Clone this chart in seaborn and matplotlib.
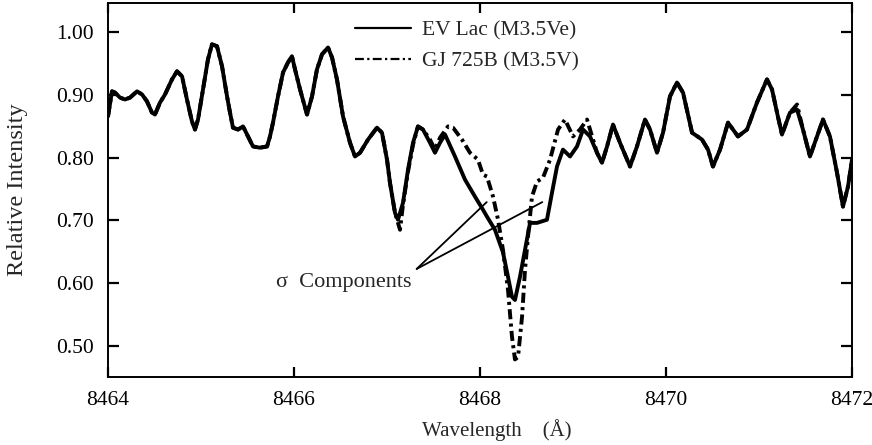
import matplotlib
matplotlib.use("Agg")
import matplotlib.pyplot as plt
from matplotlib.lines import Line2D
import seaborn as sns
import pandas as pd

# ---- data ----
ev_wl = [8464.000, 8464.043, 8464.075, 8464.129, 8464.183, 8464.237, 8464.312, 8464.366, 8464.419, 8464.473,
         8464.505, 8464.559, 8464.613, 8464.688, 8464.742, 8464.796, 8464.849, 8464.903, 8464.935, 8464.968,
         8465.022, 8465.075, 8465.118, 8465.172, 8465.226, 8465.280, 8465.312, 8465.344, 8465.398, 8465.452,
         8465.505, 8465.559, 8465.634, 8465.710, 8465.742, 8465.774, 8465.828, 8465.882, 8465.935, 8465.978,
         8466.011, 8466.065, 8466.140, 8466.194, 8466.247, 8466.301, 8466.366, 8466.409, 8466.462, 8466.527,
         8466.602, 8466.656, 8466.710, 8466.796, 8466.892, 8466.946, 8467.000, 8467.032, 8467.086, 8467.118,
         8467.172, 8467.226, 8467.280, 8467.333, 8467.387, 8467.462, 8467.516, 8467.570, 8467.624, 8467.731,
         8467.839, 8467.946, 8468.032, 8468.075, 8468.161, 8468.247, 8468.301, 8468.344, 8468.376, 8468.430,
         8468.484, 8468.538, 8468.613, 8468.720, 8468.774, 8468.828, 8468.892, 8468.968, 8469.043, 8469.108,
         8469.183, 8469.258, 8469.312, 8469.366, 8469.430, 8469.505, 8469.613, 8469.688, 8469.774, 8469.828,
         8469.903, 8469.968, 8470.043, 8470.118, 8470.183, 8470.280, 8470.387, 8470.452, 8470.505, 8470.581,
         8470.667, 8470.774, 8470.871, 8470.978, 8471.086, 8471.140, 8471.194, 8471.247, 8471.333, 8471.409,
         8471.473, 8471.548, 8471.624, 8471.688, 8471.763, 8471.839, 8471.903, 8471.957, 8472.000]
ev_val = [0.866, 0.906, 0.904, 0.896, 0.893, 0.896, 0.906, 0.901, 0.890, 0.872,
          0.869, 0.888, 0.901, 0.925, 0.938, 0.930, 0.893, 0.858, 0.845, 0.861,
          0.909, 0.957, 0.981, 0.978, 0.946, 0.898, 0.872, 0.848, 0.845, 0.850,
          0.834, 0.818, 0.816, 0.818, 0.834, 0.856, 0.898, 0.936, 0.952, 0.962,
          0.941, 0.909, 0.869, 0.898, 0.941, 0.965, 0.976, 0.960, 0.925, 0.866,
          0.824, 0.802, 0.808, 0.829, 0.848, 0.840, 0.797, 0.760, 0.712, 0.701,
          0.728, 0.781, 0.824, 0.850, 0.845, 0.824, 0.808, 0.824, 0.837, 0.802,
          0.765, 0.738, 0.717, 0.706, 0.685, 0.649, 0.610, 0.578, 0.573, 0.610,
          0.653, 0.696, 0.696, 0.701, 0.744, 0.786, 0.813, 0.802, 0.818, 0.845,
          0.834, 0.808, 0.792, 0.818, 0.853, 0.824, 0.786, 0.818, 0.861, 0.845,
          0.808, 0.840, 0.898, 0.920, 0.904, 0.840, 0.829, 0.813, 0.786, 0.813,
          0.856, 0.834, 0.845, 0.888, 0.925, 0.909, 0.872, 0.837, 0.872, 0.877,
          0.845, 0.802, 0.834, 0.861, 0.834, 0.776, 0.722, 0.754, 0.797]

gj_wl = [8464.000, 8464.043, 8464.075, 8464.129, 8464.183, 8464.237, 8464.312, 8464.366, 8464.419, 8464.473,
         8464.505, 8464.559, 8464.613, 8464.688, 8464.742, 8464.796, 8464.849, 8464.903, 8464.935, 8464.968,
         8465.022, 8465.075, 8465.118, 8465.172, 8465.226, 8465.280, 8465.312, 8465.344, 8465.398, 8465.452,
         8465.505, 8465.559, 8465.634, 8465.710, 8465.742, 8465.774, 8465.828, 8465.882, 8465.935, 8465.978,
         8466.011, 8466.065, 8466.140, 8466.194, 8466.247, 8466.301, 8466.366, 8466.409, 8466.462, 8466.527,
         8466.602, 8466.656, 8466.710, 8466.796, 8466.892, 8466.946, 8467.000, 8467.032, 8467.086, 8467.140,
         8467.172, 8467.226, 8467.280, 8467.333, 8467.387, 8467.462, 8467.516, 8467.570, 8467.656, 8467.710,
         8467.806, 8467.892, 8467.978, 8468.032, 8468.075, 8468.140, 8468.194, 8468.247, 8468.301, 8468.344,
         8468.376, 8468.409, 8468.452, 8468.484, 8468.516, 8468.559, 8468.613, 8468.677, 8468.753, 8468.839,
         8468.914, 8469.000, 8469.075, 8469.151, 8469.258, 8469.312, 8469.366, 8469.430, 8469.505, 8469.613,
         8469.688, 8469.774, 8469.828, 8469.903, 8469.968, 8470.043, 8470.118, 8470.183, 8470.280, 8470.387,
         8470.452, 8470.505, 8470.581, 8470.667, 8470.774, 8470.871, 8470.978, 8471.086, 8471.140, 8471.194,
         8471.247, 8471.333, 8471.409, 8471.473, 8471.548, 8471.624, 8471.688, 8471.763, 8471.839, 8471.903,
         8471.957, 8472.000]
gj_val = [0.866, 0.906, 0.904, 0.896, 0.893, 0.896, 0.906, 0.901, 0.890, 0.872,
          0.869, 0.888, 0.901, 0.925, 0.938, 0.930, 0.893, 0.858, 0.845, 0.861,
          0.909, 0.957, 0.981, 0.978, 0.946, 0.898, 0.872, 0.848, 0.845, 0.850,
          0.834, 0.818, 0.816, 0.818, 0.834, 0.856, 0.898, 0.936, 0.952, 0.962,
          0.941, 0.909, 0.869, 0.898, 0.941, 0.965, 0.976, 0.960, 0.925, 0.866,
          0.824, 0.802, 0.808, 0.829, 0.848, 0.840, 0.797, 0.760, 0.712, 0.685,
          0.725, 0.778, 0.821, 0.850, 0.845, 0.829, 0.813, 0.832, 0.850, 0.848,
          0.829, 0.808, 0.797, 0.773, 0.770, 0.738, 0.701, 0.653, 0.589, 0.514,
          0.478, 0.482, 0.546, 0.621, 0.674, 0.738, 0.762, 0.768, 0.797, 0.845,
          0.861, 0.834, 0.845, 0.861, 0.808, 0.792, 0.818, 0.853, 0.824, 0.786,
          0.818, 0.861, 0.845, 0.808, 0.840, 0.898, 0.920, 0.904, 0.840, 0.829,
          0.813, 0.786, 0.813, 0.856, 0.834, 0.845, 0.888, 0.925, 0.909, 0.872,
          0.837, 0.872, 0.885, 0.845, 0.802, 0.834, 0.861, 0.834, 0.776, 0.722,
          0.754, 0.797]

series_labels = ["EV Lac (M3.5Ve)", "GJ 725B (M3.5V)"]
x_ticks = [8464, 8466, 8468, 8470, 8472]
y_ticks = [0.50, 0.60, 0.70, 0.80, 0.90, 1.00]
annot_text = "σ  Components"
annot_from = (8467.319, 0.6225)
annot_to = [(8468.072, 0.7292), (8468.670, 0.7292)]

# ---- style ----
sns.set_theme(style="ticks")
plt.rcParams["font.family"] = ["Liberation Serif", "DejaVu Serif"]

fig = plt.figure(figsize=(8.72, 4.45), dpi=100)
ax = fig.add_axes([108 / 872, 68 / 445, 744 / 872, 374 / 445])

df_ev = pd.DataFrame({"wl": ev_wl, "val": ev_val})
df_gj = pd.DataFrame({"wl": gj_wl, "val": gj_val})

lw = 2.8
dash = (2.6, 1.1, 0.8, 1.1)
sns.lineplot(data=df_gj, x="wl", y="val", ax=ax, color="black", lw=lw,
             sort=False, estimator=None)
ax.lines[-1].set_dashes(dash)
sns.lineplot(data=df_ev, x="wl", y="val", ax=ax, color="black", lw=lw,
             sort=False, estimator=None)

ax.set_xlim(8464, 8472)
ax.set_ylim(0.45, 1.047)
ax.set_xticks(x_ticks)
ax.set_xticklabels([str(t) for t in x_ticks])
ax.set_yticks(y_ticks)
ax.set_yticklabels([f"{t:.2f}" for t in y_ticks])

for s in ax.spines.values():
    s.set_visible(True)
    s.set_linewidth(1.4)
    s.set_color("black")

ax.tick_params(axis="both", which="major", direction="in", width=1.6,
               labelsize=15.5, colors="black", top=True, right=True)
ax.tick_params(axis="x", pad=10, length=7)
ax.tick_params(axis="y", pad=10, length=8)

ax.set_xlabel("Wavelength    (Å)", fontsize=15, va="center")
ax.xaxis.set_label_coords((497 - 108) / 744, (377 - 430) / 374)
ax.set_ylabel("Relative Intensity", fontsize=17.5, va="center")
ax.yaxis.set_label_coords((18 - 108) / 744, 0.5)

# annotation
ax.text(annot_from[0] - 0.055, 0.6006, annot_text, fontsize=16, ha="right", va="center")
for tx, ty in annot_to:
    ax.plot([annot_from[0], tx], [annot_from[1], ty], color="black", lw=1.3)

handles = [Line2D([0], [0], color="black", lw=1.6),
           Line2D([0], [0], color="black", lw=1.6, dashes=(4, 1.5, 1, 1.5))]
fig.legend(handles, series_labels, loc="upper left",
           bbox_to_anchor=(355 / 872, 1 - 20 / 445), frameon=False,
           fontsize=15.5, handlelength=2.6, handletextpad=0.5,
           labelspacing=0.55, borderpad=0, borderaxespad=0)

fig.savefig("out.png", dpi=100)
